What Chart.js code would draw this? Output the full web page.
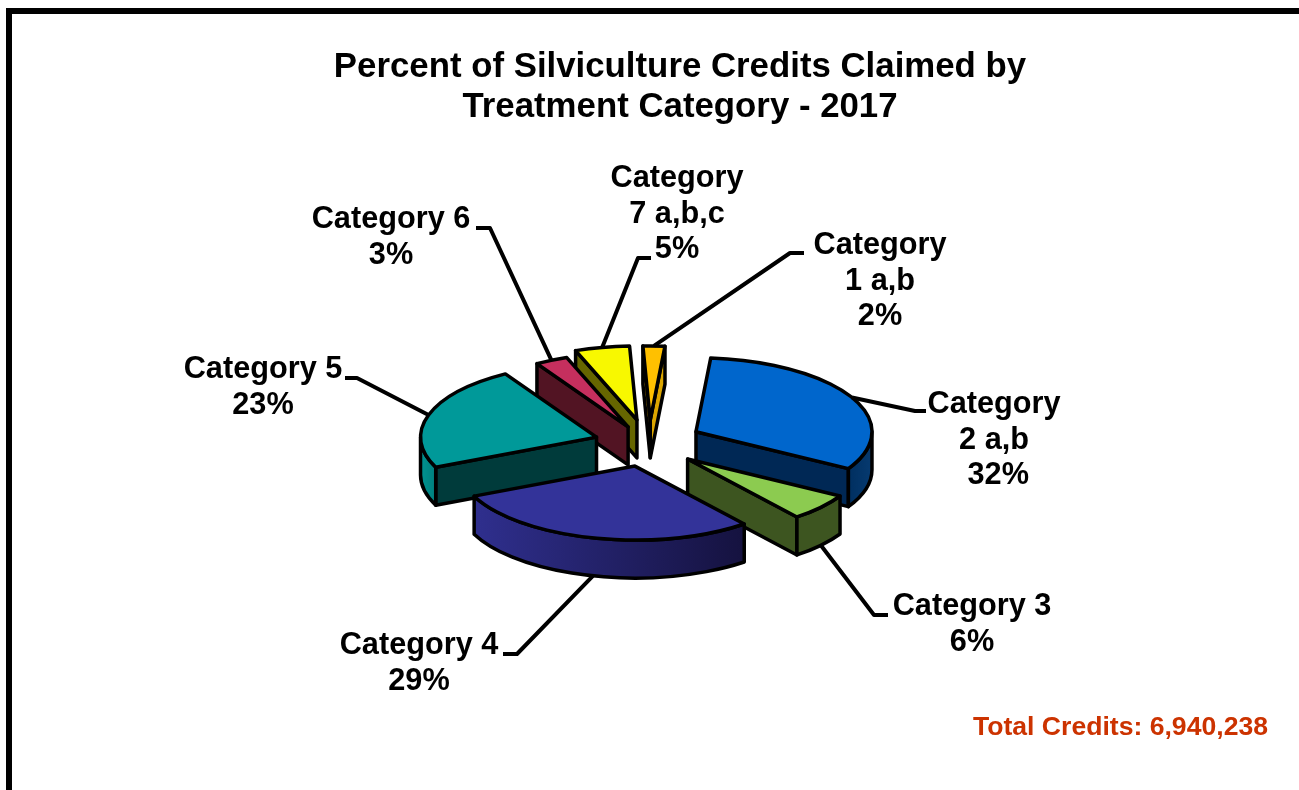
<!DOCTYPE html>
<html>
<head>
<meta charset="utf-8">
<title>Silviculture Credits 2017</title>
<script src="https://cdn.jsdelivr.net/npm/chart.js@4"></script>
<style>
  html, body { margin: 0; padding: 0; background: #fff; overflow: hidden; width: 1299px; height: 790px; }
  #frame { position: absolute; left: 6px; top: 8px; width: 1400px; height: 900px; border-left: 6px solid #000; border-top: 6px solid #000; }
  #pie { position: absolute; left: 61px; top: 0; }
</style>
</head>
<body>
<div id="frame"></div>
<canvas id="pie" width="1238" height="790"></canvas>
<script>
const titleLines = ["Percent of Silviculture Credits Claimed by", "Treatment Category - 2017"];
const categories = ["Category 1 a,b", "Category 2 a,b", "Category 3", "Category 4", "Category 5", "Category 6", "Category 7 a,b,c"];
const percents = [2, 32, 6, 29, 23, 3, 5];
const labelLines = [
  ["Category", "1 a,b", "2%"],
  ["Category", "2 a,b", " 32%"],
  ["Category 3", "6%"],
  ["Category 4", "29%"],
  ["Category 5", "23%"],
  ["Category 6", "3%"],
  ["Category", "7 a,b,c", "5%"],
];
const totalText = "Total Credits: 6,940,238";

// colours
const topColors = ["#ffc000", "#0066cc", "#8ccb50", "#333399", "#009999", "#c52f5e", "#f8f800"];
const wallColors = ["#dca600", "#002855", "#3d5520", "#1a1a50", "#003b3b", "#521423", "#666600"];
const rimFrom = ["#dca600", "#002f60", "#3d5520", "#2f2f8e", "#009391", "#521423", "#666600"];
const rimTo = ["#dca600", "#063a70", "#3d5520", "#15123f", "#007f7d", "#521423", "#666600"];

// 3d look
const squash = 0.42;
const depth = 38;
const explode = [60, 53, 51, 59, 55, 48, 61];
const liftY = [0, -3, 0, -3, -1, 0, 0];
const pieShift = -31; // title centre and pie centre differ in the reference

// label layout, page pixels: centre x, first line centre y, leader start and elbow
const canvasLeft = 61;
const labelX = [880, 994, 972, 419, 263, 391, 677];
const labelY = [246, 405, 607, 646, 370, 220, 179];
const leaderStart = [[804, 253], [926, 411], [888, 615], [503, 654], [345, 378], [476, 228], [651, 258]];
const leaderElbow = [[790, 253], [915, 411], [874, 615], [517, 654], [357, 378], [490, 228], [638, 258]];

function slicePlace(arc, i) {
  const mid = (arc.startAngle + arc.endAngle) / 2;
  return {
    mid,
    x: arc.x + pieShift + explode[i] * Math.cos(mid),
    y: arc.y + liftY[i] + explode[i] * Math.sin(mid) * squash,
  };
}

function outline(ctx, width = 3.5) {
  ctx.lineWidth = width;
  ctx.lineJoin = "round";
  ctx.strokeStyle = "#000";
  ctx.stroke();
}

function drawRadialWall(ctx, place, r, angle, color) {
  const ex = place.x + r * Math.cos(angle);
  const ey = place.y + r * squash * Math.sin(angle);
  ctx.beginPath();
  ctx.moveTo(place.x, place.y);
  ctx.lineTo(ex, ey);
  ctx.lineTo(ex, ey + depth);
  ctx.lineTo(place.x, place.y + depth);
  ctx.closePath();
  ctx.fillStyle = color;
  ctx.fill();
  outline(ctx);
}

function drawSlice(ctx, arc, i) {
  const place = slicePlace(arc, i);
  const r = arc.outerRadius;
  const s = arc.startAngle;
  const e = arc.endAngle;

  // walls that face the viewer
  if (Math.cos(s) < 0) drawRadialWall(ctx, place, r, s, wallColors[i]);
  if (Math.cos(e) > 0) drawRadialWall(ctx, place, r, e, wallColors[i]);

  // curved rim
  const a0 = Math.max(s, 0);
  const a1 = Math.min(e, Math.PI);
  if (a1 > a0) {
    const gradient = ctx.createLinearGradient(place.x + r * Math.cos(a1), 0, place.x + r * Math.cos(a0), 0);
    gradient.addColorStop(0, rimFrom[i]);
    gradient.addColorStop(1, rimTo[i]);
    ctx.beginPath();
    ctx.ellipse(place.x, place.y, r, r * squash, 0, a0, a1);
    ctx.ellipse(place.x, place.y + depth, r, r * squash, 0, a1, a0, true);
    ctx.closePath();
    ctx.fillStyle = gradient;
    ctx.fill();
    outline(ctx);
  }

  // top face comes from the library's own arc element
  ctx.save();
  ctx.translate(place.x, place.y);
  ctx.scale(1, squash);
  ctx.translate(-arc.x, -arc.y);
  arc.draw(ctx);
  ctx.restore();

  ctx.beginPath();
  ctx.moveTo(place.x, place.y);
  ctx.ellipse(place.x, place.y, r, r * squash, 0, s, e);
  ctx.closePath();
  outline(ctx);
}

function drawLeader(ctx, arc, i) {
  const place = slicePlace(arc, i);
  const r = arc.outerRadius;
  const sin = Math.sin(place.mid);
  const ax = place.x + r * Math.cos(place.mid);
  const ay = place.y + r * squash * sin + (sin > 0 ? depth : 0);
  ctx.beginPath();
  ctx.moveTo(leaderStart[i][0] - canvasLeft, leaderStart[i][1]);
  ctx.lineTo(leaderElbow[i][0] - canvasLeft, leaderElbow[i][1]);
  ctx.lineTo(ax, ay);
  outline(ctx, 4);
}

function drawLabels(ctx) {
  ctx.font = "bold 30.7px 'Liberation Sans', Arial, sans-serif";
  ctx.fillStyle = "#000";
  ctx.textAlign = "center";
  ctx.textBaseline = "middle";
  labelLines.forEach((lines, i) => {
    lines.forEach((line, n) => {
      ctx.fillText(line, labelX[i] - canvasLeft, labelY[i] + n * 35.5);
    });
  });

  ctx.font = "bold 26.6px 'Liberation Sans', Arial, sans-serif";
  ctx.fillStyle = "#cc3300";
  ctx.textAlign = "right";
  ctx.fillText(totalText, 1268 - canvasLeft, 728);
}

const pie3d = {
  id: "pie3d",
  beforeDatasetsDraw(chart) {
    const ctx = chart.ctx;
    const arcs = chart.getDatasetMeta(0).data;
    const order = arcs
      .map((arc, i) => ({ arc, i, y: slicePlace(arc, i).y }))
      .sort((a, b) => a.y - b.y);

    ctx.save();
    order.forEach((item) => drawSlice(ctx, item.arc, item.i));
    arcs.forEach((arc, i) => drawLeader(ctx, arc, i));
    drawLabels(ctx);
    ctx.restore();
    return false;
  },
};

new Chart(document.getElementById("pie"), {
  type: "pie",
  data: {
    labels: categories,
    datasets: [
      {
        data: percents,
        backgroundColor: topColors,
        borderWidth: 0,
        radius: 176,
      },
    ],
  },
  options: {
    responsive: false,
    animation: false,
    rotation: -2.4,
    layout: { padding: { bottom: 35 } },
    plugins: {
      legend: { display: false },
      tooltip: { enabled: false },
      title: {
        display: true,
        text: titleLines,
        color: "#000",
        font: { family: "'Liberation Sans', Arial, sans-serif", size: 34.8, weight: "bold", lineHeight: 1.15 },
        padding: { top: 47, bottom: 8 },
      },
    },
  },
  plugins: [pie3d],
});
</script>
</body>
</html>
